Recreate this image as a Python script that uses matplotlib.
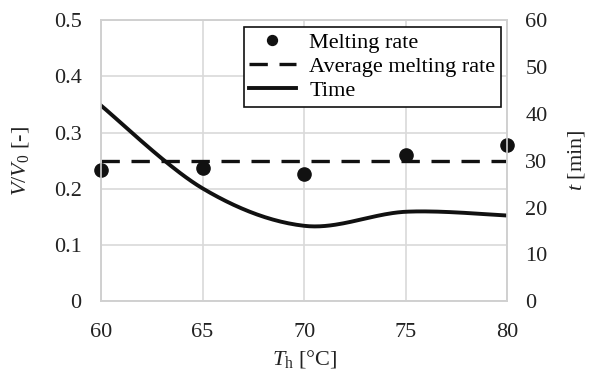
import numpy as np
import matplotlib
matplotlib.use("Agg")
import matplotlib.pyplot as plt

plt.rcParams['font.family'] = ['Liberation Serif', 'DejaVu Serif']
plt.rcParams['mathtext.fontset'] = 'custom'
plt.rcParams['mathtext.rm'] = 'Liberation Serif'
plt.rcParams['mathtext.it'] = 'Liberation Serif:italic'

temps = [60, 65, 70, 75, 80]
melting_rate = [0.234, 0.237, 0.227, 0.260, 0.278]
avg_rate = 0.249
time_min = [41.8, 24.1, 16.1, 19.1, 18.3]
x_ticks = [60, 65, 70, 75, 80]
y_ticks = [0, 0.1, 0.2, 0.3, 0.4, 0.5]
y2_ticks = [0, 10, 20, 30, 40, 50, 60]


def smooth(xs, ys, n=40):
    xs = np.asarray(xs, float); ys = np.asarray(ys, float)
    px = np.concatenate([[xs[0]], xs, [xs[-1]]])
    py = np.concatenate([[ys[0]], ys, [ys[-1]]])
    ox, oy = [], []
    for i in range(1, len(px) - 2):
        p0 = np.array([px[i], py[i]]); p3 = np.array([px[i + 1], py[i + 1]])
        p1 = p0 + (p3 - np.array([px[i - 1], py[i - 1]])) / 6
        p2 = p3 - (np.array([px[i + 2], py[i + 2]]) - p0) / 6
        s = np.linspace(0, 1, n)[:, None]
        b = (1 - s) ** 3 * p0 + 3 * (1 - s) ** 2 * s * p1 + 3 * (1 - s) * s ** 2 * p2 + s ** 3 * p3
        ox.extend(b[:, 0]); oy.extend(b[:, 1])
    return np.array(ox), np.array(oy)


fig = plt.figure(figsize=(5.94, 3.76), dpi=100)
ax = fig.add_axes([0.170, 0.199, 0.684, 0.747])
ax2 = ax.twinx()

ax.set_xlim(60, 80)
ax.set_ylim(0, 0.5)
ax2.set_ylim(0, 60)
ax.set_xticks(x_ticks)
ax.set_yticks(y_ticks)
ax.set_yticklabels(['0', '0.1', '0.2', '0.3', '0.4', '0.5'])
ax2.set_yticks(y2_ticks)

ax.grid(True, color='#d9d9d9', linewidth=1.2)
ax.set_axisbelow(True)
for a in (ax, ax2):
    for sp in a.spines.values():
        sp.set_color('#d0d0d0')
        sp.set_linewidth(1.2)
    a.tick_params(length=0, labelsize=16, colors='#222222', pad=14)
ax.tick_params(axis='x', pad=16)
ax2.tick_params(pad=13)

h1, = ax.plot(temps, melting_rate, 'o', color='#111111', markersize=9.5, zorder=5,
              label='Melting rate', clip_on=False)
h2, = ax.plot([temps[0], temps[-1]], [avg_rate, avg_rate], '--', color='#111111',
              linewidth=2.4, dashes=(5.5, 3.5), label='Average melting rate')
sx, sy = smooth(temps, time_min)
h3, = ax2.plot(sx, sy, '-', color='#111111', linewidth=2.8, label='Time')

ax.set_ylabel(r'$V/V_{\mathit{0}}$ [-]', fontsize=16, color='#222222', labelpad=16)
ax2.set_ylabel(r'$t$ [min]', fontsize=16, color='#222222', labelpad=13)
ax.set_xlabel(r'$T_{\mathrm{h}}$ [°C]', fontsize=16, color='#222222', labelpad=4)

leg = ax2.legend(handles=[h1, h2, h3], loc='upper left', bbox_to_anchor=(0.351, 0.977),
                 fontsize=16, frameon=True, fancybox=False, edgecolor='#111111',
                 framealpha=1, borderpad=0.25, labelspacing=0.16, handlelength=2.1,
                 handletextpad=0.6, borderaxespad=0, markerscale=0.75)
leg.get_frame().set_linewidth(1.2)

fig.savefig('out.png', dpi=100)
